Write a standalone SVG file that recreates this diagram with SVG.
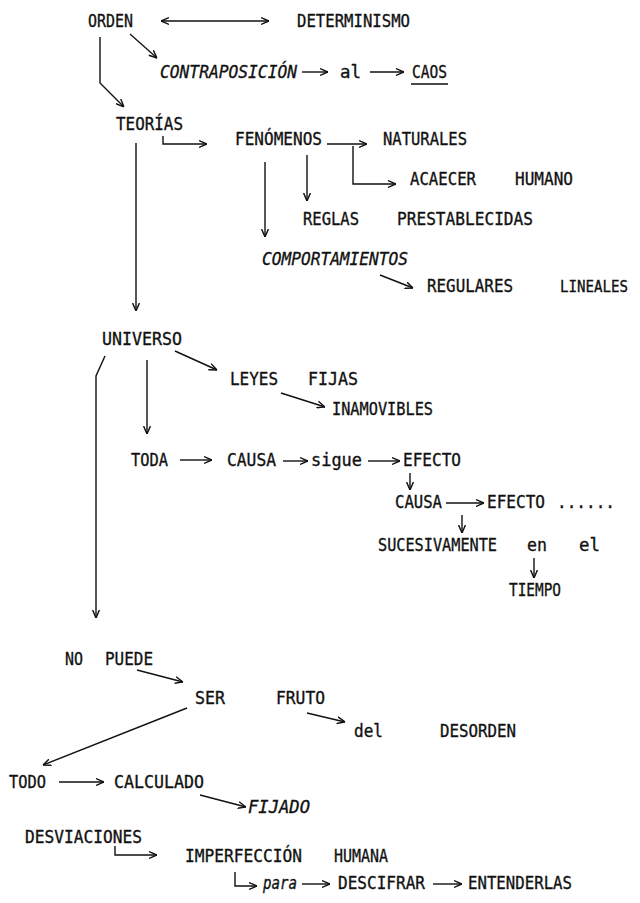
<svg xmlns="http://www.w3.org/2000/svg" width="640" height="903" viewBox="0 0 640 903">
<style>
text { font-family: "DejaVu Sans Mono", "Liberation Mono", monospace; font-size: 18px; fill: #111; stroke: #111; stroke-width: 0.35px; }
.i { font-style: italic; }
#connectors path, #connectors line { fill: none; stroke: #111; stroke-width: 1.4; }
.ar { marker-end: url(#a); }
.ul { stroke: #111; stroke-width: 1.4; }
</style>
<defs>
<marker id="a" viewBox="0 0 8 8" refX="8" refY="4" markerWidth="8" markerHeight="8" markerUnits="userSpaceOnUse" orient="auto-start-reverse">
<path d="M0,0.6 L8,4 L0,7.4" fill="none" stroke="#111" stroke-width="1.4"/>
</marker>
</defs>
<rect width="640" height="903" fill="#fff"/>
<g id="connectors">
<line x1="161" y1="21" x2="269" y2="21" class="ar" marker-start="url(#a)"/>
<line x1="130" y1="34" x2="157" y2="58" class="ar"/>
<path d="M100,37 V83 L124,107" class="ar"/>
<line x1="302" y1="72" x2="328" y2="72" class="ar"/>
<line x1="370" y1="72" x2="404" y2="72" class="ar"/>
<path d="M163,136 V144 H207" class="ar"/>
<line x1="327" y1="144" x2="367" y2="144" class="ar"/>
<path d="M353,146 V184 H396" class="ar"/>
<line x1="307" y1="155" x2="307" y2="201" class="ar"/>
<line x1="265" y1="162" x2="265" y2="237" class="ar"/>
<line x1="380" y1="275" x2="413" y2="288" class="ar"/>
<line x1="136" y1="143" x2="136" y2="311" class="ar"/>
<line x1="175" y1="351" x2="217" y2="370" class="ar"/>
<line x1="281" y1="393" x2="325" y2="407" class="ar"/>
<line x1="147" y1="360" x2="147" y2="434" class="ar"/>
<path d="M105,356 L96,376 V618" class="ar"/>
<line x1="180" y1="460" x2="212" y2="460" class="ar"/>
<line x1="283" y1="461" x2="308" y2="461" class="ar"/>
<line x1="368" y1="461" x2="400" y2="461" class="ar"/>
<line x1="410" y1="473" x2="410" y2="490" class="ar"/>
<line x1="446" y1="503" x2="484" y2="503" class="ar"/>
<line x1="462" y1="515" x2="462" y2="533" class="ar"/>
<line x1="534" y1="558" x2="534" y2="578" class="ar"/>
<line x1="137" y1="670" x2="183" y2="682" class="ar"/>
<line x1="307" y1="713" x2="345" y2="722" class="ar"/>
<line x1="187" y1="708" x2="43" y2="765" class="ar"/>
<line x1="59" y1="782" x2="104" y2="782" class="ar"/>
<line x1="200" y1="795" x2="246" y2="807" class="ar"/>
<path d="M115,846 V855 H157" class="ar"/>
<path d="M235,872 V886 H257" class="ar"/>
<line x1="302" y1="884" x2="330" y2="884" class="ar"/>
<line x1="433" y1="884" x2="462" y2="884" class="ar"/>
</g>
<g id="orden"><text x="88" y="27" textLength="45" lengthAdjust="spacingAndGlyphs">ORDEN</text></g>
<g id="determinismo"><text x="297" y="27" textLength="113" lengthAdjust="spacingAndGlyphs">DETERMINISMO</text></g>
<g id="contraposicion"><text class="i" x="160" y="78" textLength="137" lengthAdjust="spacingAndGlyphs">CONTRAPOSICIÓN</text></g>
<g id="al"><text x="340" y="78" textLength="21" lengthAdjust="spacingAndGlyphs">al</text></g>
<g id="caos"><text x="412" y="78" textLength="35" lengthAdjust="spacingAndGlyphs">CAOS</text><line class="ul" x1="411" y1="84" x2="448" y2="84"/></g>
<g id="teorias"><text x="116" y="130" textLength="67" lengthAdjust="spacingAndGlyphs">TEORÍAS</text></g>
<g id="fenomenos"><text x="235" y="145" textLength="87" lengthAdjust="spacingAndGlyphs">FENÓMENOS</text></g>
<g id="naturales"><text x="383" y="145" textLength="84" lengthAdjust="spacingAndGlyphs">NATURALES</text></g>
<g id="acaecer-humano"><text x="410" y="185" textLength="66" lengthAdjust="spacingAndGlyphs">ACAECER</text><text x="515" y="185" textLength="58" lengthAdjust="spacingAndGlyphs">HUMANO</text></g>
<g id="reglas"><text x="303" y="225" textLength="56" lengthAdjust="spacingAndGlyphs">REGLAS</text><text x="397" y="225" textLength="136" lengthAdjust="spacingAndGlyphs">PRESTABLECIDAS</text></g>
<g id="comportamientos"><text class="i" x="262" y="265" textLength="146" lengthAdjust="spacingAndGlyphs">COMPORTAMIENTOS</text></g>
<g id="regulares"><text x="427" y="292" textLength="86" lengthAdjust="spacingAndGlyphs">REGULARES</text><text x="560" y="292" style="font-size:16px" textLength="68" lengthAdjust="spacingAndGlyphs">LINEALES</text></g>
<g id="universo"><text x="102" y="345" textLength="80" lengthAdjust="spacingAndGlyphs">UNIVERSO</text></g>
<g id="leyes"><text x="230" y="385" textLength="48" lengthAdjust="spacingAndGlyphs">LEYES</text><text x="308" y="385" textLength="50" lengthAdjust="spacingAndGlyphs">FIJAS</text></g>
<g id="inamovibles"><text x="332" y="415" textLength="101" lengthAdjust="spacingAndGlyphs">INAMOVIBLES</text></g>
<g id="toda"><text x="131" y="466" textLength="37" lengthAdjust="spacingAndGlyphs">TODA</text></g>
<g id="causa1"><text x="227" y="466" textLength="49" lengthAdjust="spacingAndGlyphs">CAUSA</text></g>
<g id="sigue"><text x="311" y="466" textLength="51" lengthAdjust="spacingAndGlyphs">sigue</text></g>
<g id="efecto1"><text x="403" y="466" textLength="58" lengthAdjust="spacingAndGlyphs">EFECTO</text></g>
<g id="causa2"><text x="395" y="508" textLength="47" lengthAdjust="spacingAndGlyphs">CAUSA</text></g>
<g id="efecto2"><text x="487" y="508" textLength="58" lengthAdjust="spacingAndGlyphs">EFECTO</text><text x="557" y="508" textLength="58" lengthAdjust="spacingAndGlyphs">......</text></g>
<g id="sucesivamente"><text x="378" y="551" textLength="119" lengthAdjust="spacingAndGlyphs">SUCESIVAMENTE</text><text x="527" y="551" textLength="20" lengthAdjust="spacingAndGlyphs">en</text><text x="579" y="551" textLength="21" lengthAdjust="spacingAndGlyphs">el</text></g>
<g id="tiempo"><text x="509" y="596" textLength="52" lengthAdjust="spacingAndGlyphs">TIEMPO</text></g>
<g id="no-puede"><text x="65" y="665" textLength="18" lengthAdjust="spacingAndGlyphs">NO</text><text x="105" y="665" textLength="48" lengthAdjust="spacingAndGlyphs">PUEDE</text></g>
<g id="ser-fruto"><text x="195" y="704" textLength="30" lengthAdjust="spacingAndGlyphs">SER</text><text x="276" y="704" textLength="49" lengthAdjust="spacingAndGlyphs">FRUTO</text></g>
<g id="del-desorden"><text x="354" y="737" textLength="29" lengthAdjust="spacingAndGlyphs">del</text><text x="440" y="737" textLength="76" lengthAdjust="spacingAndGlyphs">DESORDEN</text></g>
<g id="todo"><text x="9" y="788" textLength="37" lengthAdjust="spacingAndGlyphs">TODO</text></g>
<g id="calculado"><text x="114" y="788" textLength="90" lengthAdjust="spacingAndGlyphs">CALCULADO</text></g>
<g id="fijado"><text class="i" x="248" y="813" textLength="62" lengthAdjust="spacingAndGlyphs">FIJADO</text></g>
<g id="desviaciones"><text x="25" y="843" textLength="117" lengthAdjust="spacingAndGlyphs">DESVIACIONES</text></g>
<g id="imperfeccion"><text x="185" y="862" textLength="117" lengthAdjust="spacingAndGlyphs">IMPERFECCIÓN</text><text x="334" y="862" textLength="54" lengthAdjust="spacingAndGlyphs">HUMANA</text></g>
<g id="para"><text class="i" x="263" y="889" textLength="34" lengthAdjust="spacingAndGlyphs">para</text></g>
<g id="descifrar"><text x="338" y="889" textLength="87" lengthAdjust="spacingAndGlyphs">DESCIFRAR</text></g>
<g id="entenderlas"><text x="468" y="889" textLength="104" lengthAdjust="spacingAndGlyphs">ENTENDERLAS</text></g>
</svg>
